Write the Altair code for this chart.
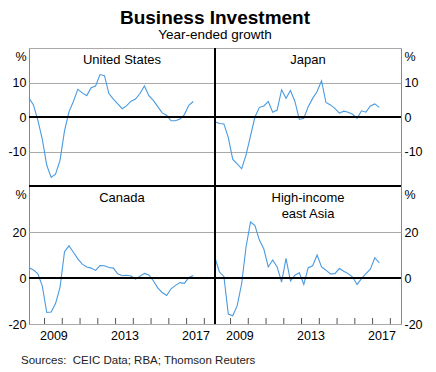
import altair as alt
import pandas as pd

# ---- data ----
quarters = [f"{y}Q{q}" for y in range(2008, 2018) for q in range(1, 5)][:38]

us = [5.5, 3.5, -1.0, -6.5, -14.0, -17.5, -16.5, -12.5, -4.0, 1.5,
      4.5, 8.0, 7.0, 6.2, 8.5, 9.0, 12.3, 12.0, 6.8, 5.2,
      3.8, 2.4, 3.3, 4.6, 5.2, 6.8, 9.0, 6.2, 4.8, 3.0,
      1.2, 0.5, -1.1, -1.1, -0.6, 0.7, 3.4, 4.5]

japan = [-1.4, -1.9, -2.0, -6.0, -12.3, -13.6, -15.0, -11.0, -5.5, 0.0,
         2.8, 3.2, 4.5, 1.4, 2.0, 7.9, 5.4, 7.7, 4.5, -0.7,
         -0.4, 3.0, 5.4, 7.4, 10.5, 4.2, 3.5, 2.5, 1.1, 1.7,
         1.4, 0.8, -0.4, 1.8, 1.4, 3.2, 3.8, 2.8]

canada = [4.5, 3.5, 1.8, -3.5, -15.0, -14.8, -11.0, -4.0, 11.4, 14.0,
          11.2, 8.3, 6.0, 4.8, 4.3, 3.3, 5.4, 5.3, 4.6, 4.3,
          1.8, 1.0, 1.2, 0.9, -0.5, 0.8, 2.0, 1.3, -1.2, -4.3,
          -6.3, -7.6, -4.7, -3.2, -2.0, -2.3, 0.2, 1.1]

hiea = [8.8, 2.6, 0.7, -15.7, -16.4, -12.0, -2.5, 13.6, 24.3, 22.8,
        16.5, 12.6, 4.8, 7.8, 4.8, -1.8, 8.5, -1.3, 1.2, 2.3,
        -2.8, 4.5, 5.3, 10.0, 4.8, 3.4, 1.8, 1.9, 4.1, 2.9,
        1.9, 0.4, -2.8, -0.3, 1.9, 3.8, 8.8, 6.6]

tick_years = list(range(2009, 2019))
label_years = [2009, 2013, 2017]

top_ticks = [-10, 0, 10, 20]
bottom_ticks = [-20, 0, 20, 40]

source_text = "Sources:\u00a0\u00a0CEIC Data; RBA; Thomson Reuters"


def to_t(s):
    y, q = s.split("Q")
    return int(y) + (int(q) - 0.5) / 4


T = [to_t(s) for s in quarters]

# ---- styling ----
FONT = "Liberation Sans"
LINE = "#4a9ae0"
W = 186
H = 138
XDOM = [2008.125, 2018.6]


def panel(name, values, ydom, yvals, side, bottom, left, footer=None):
    h = H
    df = pd.DataFrame({"t": T, "v": values})
    xscale = alt.Scale(domain=XDOM, nice=False, zero=False)
    if bottom:
        xaxis = alt.Axis(values=[y + 0.5 for y in label_years],
                         labelExpr="floor(datum.value)",
                         ticks=False, domain=False, grid=False,
                         labelPadding=5, labelFontSize=12.5, labelFlush=False,
                         labelFont=FONT, labelColor="black", title=None)
    else:
        xaxis = None
    top = ydom[1]
    yaxis = alt.Axis(orient=side, values=yvals,
                     labelExpr=f"datum.value == {top} ? '%' : '' + datum.value",
                     labelBaseline={"condition": {"test": f"datum.value == {top}", "value": "top"},
                                    "value": "middle"},
                     labelOffset={"condition": {"test": f"datum.value == {top}", "value": 2},
                                  "value": 0},
                     ticks=False, domain=False, grid=True, gridColor="#aaaaaa",
                     gridWidth=1, labelFontSize=12.5, labelPadding=3,
                     labelFont=FONT, labelColor="black", labelFlush=False,
                     labelBound=False, title=None)
    yscale = alt.Scale(domain=ydom, nice=False, zero=False)

    base = alt.Chart(df)
    line = base.mark_line(color=LINE, strokeWidth=1.1).encode(
        x=alt.X("t:Q", scale=xscale, axis=xaxis),
        y=alt.Y("v:Q", scale=yscale, axis=yaxis),
    )
    zero = base.mark_rule(color="black", strokeWidth=1.2).encode(y=alt.datum(0))

    layers = [line, zero]

    if bottom:
        ticks = alt.Chart(pd.DataFrame({"yr": tick_years})).mark_rule(
            color="#555555", strokeWidth=1).encode(
            x=alt.X("yr:Q", scale=xscale),
            y=alt.value(h - 6), y2=alt.value(h))
        layers.append(ticks)

    # black dividing lines between panels
    if left:
        layers.append(base.mark_rule(color="black", strokeWidth=1.3).encode(
            x=alt.value(W), y=alt.value(0), y2=alt.value(h)))
    else:
        layers.append(base.mark_rule(color="black", strokeWidth=1.3).encode(
            x=alt.value(0), y=alt.value(0), y2=alt.value(h)))
    if bottom:
        layers.append(base.mark_rule(color="black", strokeWidth=1.3).encode(
            y=alt.value(0), x=alt.value(0), x2=alt.value(W)))
    else:
        layers.append(base.mark_rule(color="black", strokeWidth=1.3).encode(
            y=alt.value(h), x=alt.value(0), x2=alt.value(W)))

    label = alt.Chart(pd.DataFrame({"name": [name]})).mark_text(
        font=FONT, fontSize=13, color="black", align="center",
        baseline="alphabetic", lineBreak="\n", lineHeight=16.5).encode(
        x=alt.value(W / 2), y=alt.value(15.5), text="name:N")
    layers.append(label)

    if footer:
        foot = alt.Chart(pd.DataFrame({"src": [footer]})).mark_text(
            font=FONT, fontSize=11.5, color="#222222", align="left",
            baseline="alphabetic").encode(
            x=alt.value(-8), y=alt.value(h + 40), text="src:N")
        layers.append(foot)

    return alt.layer(*layers).properties(width=W, height=h)


us_p = panel("United States", us, [-20, 20], top_ticks, "left", False, True)
jp_p = panel("Japan", japan, [-20, 20], top_ticks, "right", False, False)
ca_p = panel("Canada", canada, [-20, 40], bottom_ticks, "left", True, True,
             footer=source_text)
hk_p = panel("High-income\neast Asia", hiea, [-20, 40], bottom_ticks, "right", True, False)

chart = alt.concat(us_p, jp_p, ca_p, hk_p, columns=2, spacing=0, bounds="flush").properties(
    title=alt.TitleParams("Business Investment", subtitle="Year-ended growth",
                          fontSize=19, fontWeight="bold", font=FONT,
                          subtitleFont=FONT, subtitleFontSize=13.5,
                          subtitleColor="black", color="black",
                          anchor="middle", offset=5, subtitlePadding=0),
    padding={"left": -1, "top": 1, "right": 0, "bottom": 0},
).configure_view(stroke="#888888", strokeWidth=1).configure_concat(spacing=0)

chart.save("out.html", embed_options={"renderer": "svg", "actions": False})
